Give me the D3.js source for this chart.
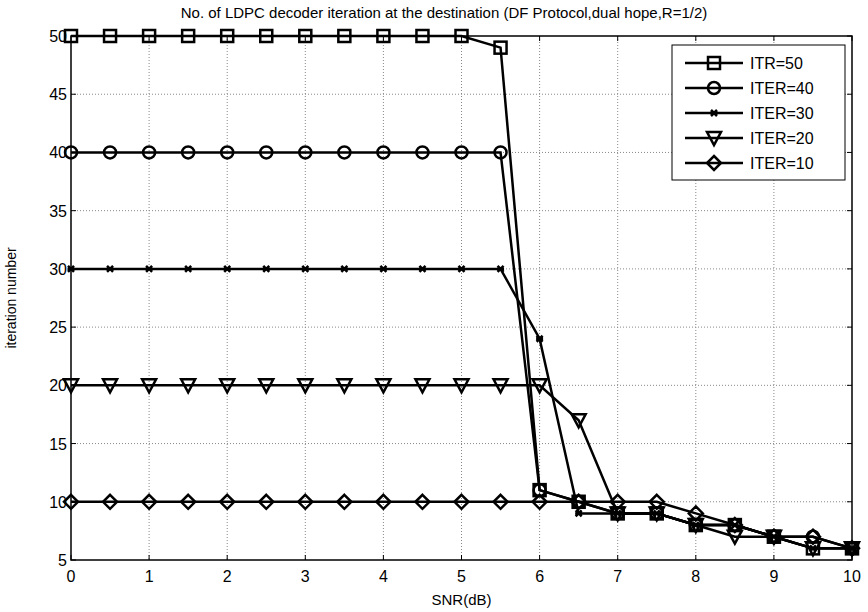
<!DOCTYPE html>
<html>
<head>
<meta charset="utf-8">
<script src="https://cdn.jsdelivr.net/npm/d3@7"></script>
<style>
body { margin:0; background:#fff; }
text { font-family: "Liberation Sans", Arial, sans-serif; }
</style>
</head>
<body>
<svg width="868" height="612"></svg>
<script>
// SNR steps, 0 to 10 by 0.5
var snr = [0,0.5,1,1.5,2,2.5,3,3.5,4,4.5,5,5.5,6,6.5,7,7.5,8,8.5,9,9.5,10]

var itr50 = [50,50,50,50,50,50,50,50,50,50,50,49,11,10,9,9,8,8,7,6,6]
var iter40 = [40,40,40,40,40,40,40,40,40,40,40,40,11,10,9,9,8,8,7,7,6]
var iter30 = [30,30,30,30,30,30,30,30,30,30,30,30,24,9,9,9,8,8,7,6,6]
var iter20 = [20,20,20,20,20,20,20,20,20,20,20,20,20,17,9,9,8,7,7,6,6]
var iter10 = [10,10,10,10,10,10,10,10,10,10,10,10,10,10,10,10,9,8,7,7,6]

var seriesNames = ["ITR=50","ITER=40","ITER=30","ITER=20","ITER=10"]
var markers = ["square","circle","star","tri","diamond"]
var xTicks = [0,1,2,3,4,5,6,7,8,9,10]
var yTicks = [5,10,15,20,25,30,35,40,45,50]

var allSeries = [itr50,iter40,iter30,iter20,iter10]

var svg = d3.select("svg")
var pLeft = 71, pRight = 852, pTop = 36, pBottom = 560

var x = d3.scaleLinear().domain([0,10]).range([pLeft,pRight])
var y = d3.scaleLinear().domain([5,50]).range([pBottom,pTop])

// grid
var grid = svg.append("g")
grid.selectAll("line.gx").data(xTicks.slice(1,-1)).join("line")
  .attr("x1",d=>x(d)).attr("x2",d=>x(d)).attr("y1",pTop).attr("y2",pBottom)
  .attr("stroke","#888").attr("stroke-width",1).attr("stroke-dasharray","1,2")
grid.selectAll("line.gy").data(yTicks.slice(1,-1)).join("line")
  .attr("y1",d=>y(d)).attr("y2",d=>y(d)).attr("x1",pLeft).attr("x2",pRight)
  .attr("stroke","#888").attr("stroke-width",1).attr("stroke-dasharray","1,2")

// inward ticks on all sides
var ticks = svg.append("g").attr("stroke","#000").attr("stroke-width",1)
xTicks.forEach(function(t){
  ticks.append("line").attr("x1",x(t)).attr("x2",x(t)).attr("y1",pBottom).attr("y2",pBottom-5)
  ticks.append("line").attr("x1",x(t)).attr("x2",x(t)).attr("y1",pTop).attr("y2",pTop+5)
})
yTicks.forEach(function(t){
  ticks.append("line").attr("x1",pLeft).attr("x2",pLeft+5).attr("y1",y(t)).attr("y2",y(t))
  ticks.append("line").attr("x1",pRight).attr("x2",pRight-5).attr("y1",y(t)).attr("y2",y(t))
})

svg.append("rect").attr("x",pLeft).attr("y",pTop).attr("width",pRight-pLeft).attr("height",pBottom-pTop)
  .attr("fill","none").attr("stroke","#000").attr("stroke-width",1.5)

// tick labels
svg.selectAll("text.xt").data(xTicks).join("text")
  .attr("x",d=>x(d)).attr("y",pBottom+22).attr("text-anchor","middle")
  .attr("font-size",16).text(d=>d)
svg.selectAll("text.yt").data(yTicks).join("text")
  .attr("x",pLeft-4).attr("y",d=>y(d)+6).attr("text-anchor","end")
  .attr("font-size",16).text(d=>d)

svg.append("text").attr("x",(pLeft+pRight)/2).attr("y",605).attr("text-anchor","middle")
  .attr("font-size",15).text("SNR(dB)")
svg.append("text").attr("transform","translate(16,"+((pTop+pBottom)/2)+") rotate(-90)")
  .attr("text-anchor","middle").attr("font-size",14).text("iteration number")
svg.append("text").attr("x",444).attr("y",18).attr("text-anchor","middle")
  .attr("font-size",15).text("No. of LDPC decoder iteration at the destination (DF Protocol,dual hope,R=1/2)")

var drawMarker = function(g,type,cx,cy)
{
  if(type=="square"){
    g.append("rect").attr("x",cx-6).attr("y",cy-6).attr("width",12).attr("height",12)
  }
  else if(type=="circle"){
    g.append("circle").attr("cx",cx).attr("cy",cy).attr("r",6)
  }
  else if(type=="tri"){
    g.append("path").attr("d","M"+(cx-7)+","+(cy-6)+"L"+(cx+7)+","+(cy-6)+"L"+cx+","+(cy+7)+"Z")
  }
  else if(type=="diamond"){
    g.append("path").attr("d","M"+cx+","+(cy-7)+"L"+(cx+7)+","+cy+"L"+cx+","+(cy+7)+"L"+(cx-7)+","+cy+"Z")
  }
  else {
    g.append("path").attr("d","M"+(cx-3)+","+(cy-3)+"L"+(cx+3)+","+(cy+3)+"M"+(cx-3)+","+(cy+3)+"L"+(cx+3)+","+(cy-3)+"M"+(cx-3.5)+","+cy+"L"+(cx+3.5)+","+cy)
  }
}

var line = d3.line().x((d,i)=>x(snr[i])).y(d=>y(d))
var plot = svg.append("g")
allSeries.forEach(function(s,k){
  plot.append("path").datum(s).attr("d",line).attr("fill","none")
    .attr("stroke","#000").attr("stroke-width",2.5)
  var mg = plot.append("g").attr("fill","none").attr("stroke","#000").attr("stroke-width",2.5)
  s.forEach(function(v,i){ drawMarker(mg,markers[k],x(snr[i]),y(v)) })
})

// legend
var lg = svg.append("g")
lg.append("rect").attr("x",672).attr("y",45).attr("width",173).attr("height",135)
  .attr("fill","#fff").attr("stroke","#000").attr("stroke-width",1)
seriesNames.forEach(function(n,k){
  var ly = 63 + k*25
  lg.append("line").attr("x1",685).attr("x2",743).attr("y1",ly).attr("y2",ly)
    .attr("stroke","#000").attr("stroke-width",2.5)
  var mg = lg.append("g").attr("fill","none").attr("stroke","#000").attr("stroke-width",2.5)
  drawMarker(mg,markers[k],714,ly)
  lg.append("text").attr("x",750).attr("y",ly+6).attr("font-size",16).text(n)
})
</script>
</body>
</html>
